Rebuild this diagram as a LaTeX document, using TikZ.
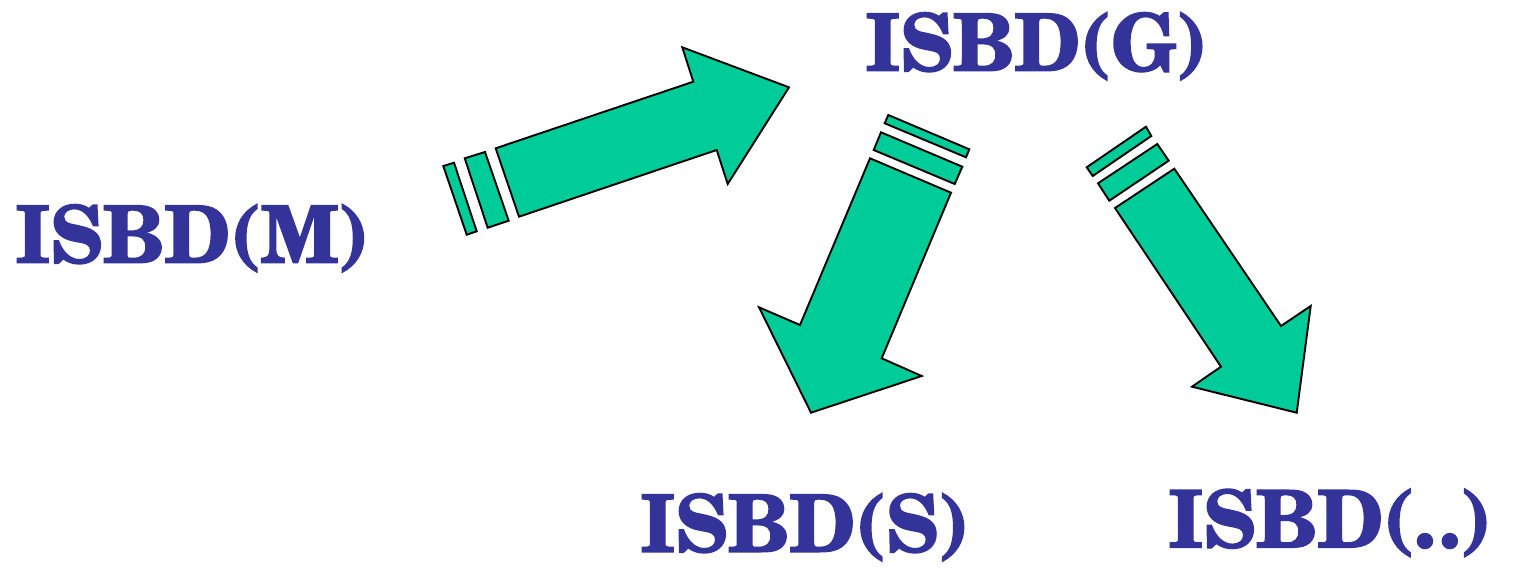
\documentclass[tikz,border=0pt]{standalone}
\usepackage{fontspec}
\newfontfamily\isbdfont[FakeBold=2]{texgyreschola-bold.otf}
\definecolor{isbdblue}{HTML}{333399}
\definecolor{arrowgreen}{HTML}{00CC99}
\tikzset{
  lbl/.style={font=\isbdfont\fontsize{79}{80}\selectfont, text=isbdblue, inner sep=0pt, anchor=base west},
  blockarrow/.style={fill=arrowgreen, draw=black, line width=1.9pt, line join=miter}
}
\begin{document}
\begin{tikzpicture}[x=1pt,y=-1pt]
\useasboundingbox (0,0) rectangle (1514,570);
% labels
\node[lbl] (m) at (15,262.7) {ISBD(M)};
\node[lbl] (g) at (865,70.7) {ISBD(G)};
\node[lbl] (s) at (640,551.7) {ISBD(S)};
\node[lbl] (d) at (1168,547.3) {ISBD(.\kern3pt.)};
% arrow M -> G
\draw[blockarrow] (443.3,166) -- (454,162.7) -- (476.7,231.3) -- (466.7,234.7) -- cycle;
\draw[blockarrow] (464.7,158.3) -- (485,152) -- (508.7,220.7) -- (487.7,227.7) -- cycle;
\draw[blockarrow] (495.7,148.3) -- (693.3,81.7) -- (682.3,47.3) -- (789,87.3) -- (727.7,184) -- (716.7,150) -- (519,216.7) -- cycle;
% arrow G -> S
\draw[blockarrow] (888.3,115) -- (969.3,149.3) -- (966,157.3) -- (884.7,123.3) -- cycle;
\draw[blockarrow] (881,132.3) -- (962.3,166.7) -- (954.7,184) -- (873.7,150) -- cycle;
\draw[blockarrow] (870,158.3) -- (951,192.7) -- (881.7,358.3) -- (921.7,376) -- (811,412.7) -- (759,307.3) -- (800,325) -- cycle;
% arrow G -> ..
\draw[blockarrow] (1146,126.7) -- (1151.3,136) -- (1092.7,176) -- (1086.7,167.3) -- cycle;
\draw[blockarrow] (1157.3,144) -- (1168.7,160.7) -- (1109.3,200.7) -- (1098,183.3) -- cycle;
\draw[blockarrow] (1174.3,168.7) -- (1281,326) -- (1310.7,306) -- (1296.7,412.7) -- (1192,386.7) -- (1221,366.7) -- (1115,208) -- cycle;
\end{tikzpicture}
\end{document}
